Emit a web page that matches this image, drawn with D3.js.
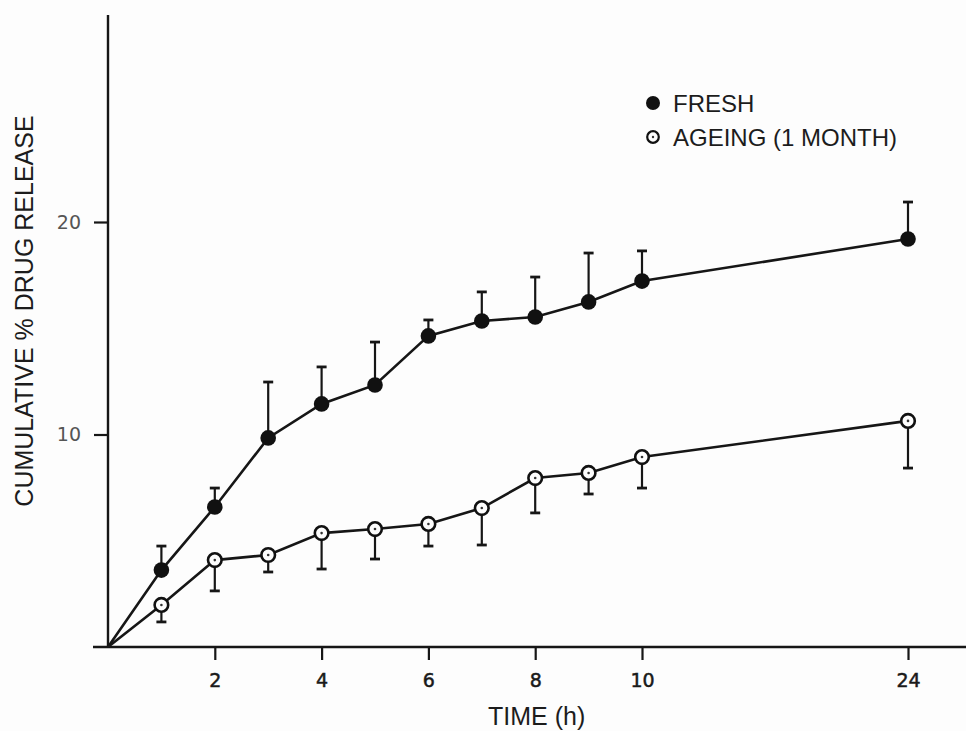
<!DOCTYPE html>
<html>
<head>
<meta charset="utf-8">
<script src="https://cdn.jsdelivr.net/npm/d3@7"></script>
<style>
  body { margin: 0; background: #fdfdfd; }
  svg { display: block; background: #fdfdfd; }
  .axis text { font-family: "DejaVu Sans", sans-serif; font-size: 19px; fill: #1a1a1a; stroke: #1a1a1a; stroke-width: 0.5; }
  .axis line { stroke: #161616; stroke-width: 2.2; }
  .label { font-family: "Liberation Sans", Arial, sans-serif; font-size: 25px; fill: #1c1c1c; }
  .legend { font-family: "Liberation Sans", Arial, sans-serif; font-size: 24px; fill: #1c1c1c; }
</style>
</head>
<body>
<script>
//Global variables
const width = 966;
const height = 731;

//Data (hours, cumulative % released, SD)
const times = [1, 2, 3, 4, 5, 6, 7, 8, 9, 10, 24];
const fresh = [3.62, 6.59, 9.84, 11.44, 12.33, 14.64, 15.34, 15.53, 16.24, 17.22, 19.2];
const freshSd = [1.13, 0.89, 2.63, 1.74, 2.02, 0.75, 1.37, 1.88, 2.3, 1.42, 1.74];
const ageing = [1.98, 4.09, 4.33, 5.36, 5.55, 5.79, 6.54, 7.95, 8.19, 8.94, 10.64];
const ageingSd = [0.8, 1.45, 0.8, 1.69, 1.41, 1.04, 1.74, 1.64, 0.99, 1.46, 2.22];
const xTicks = [2, 4, 6, 8, 10, 24];
const yTicks = [10, 20];

const freshData = times.map((t, i) => ({t: t, v: fresh[i], sd: freshSd[i]}));
const ageingData = times.map((t, i) => ({t: t, v: ageing[i], sd: ageingSd[i]}));

//Scales - time axis is broken after 10 h
const xScale = d3.scaleLinear()
    .domain([0, 10, 24])
    .range([108, 642, 908]);

const yScale = d3.scaleLinear()
    .domain([0, 20])
    .range([647, 222]);

//SVG element
const svg = d3.select("body")
    .append("svg")
    .attr("width", width)
    .attr("height", height);

//Axis lines
svg.append("line")
    .attr("x1", 93).attr("x2", width)
    .attr("y1", yScale(0)).attr("y2", yScale(0))
    .attr("stroke", "#161616").attr("stroke-width", 2.4);

svg.append("line")
    .attr("x1", xScale(0)).attr("x2", xScale(0))
    .attr("y1", 15).attr("y2", yScale(0))
    .attr("stroke", "#161616").attr("stroke-width", 2.4);

//Axes
const bottomAxis = d3.axisBottom(xScale)
    .tickValues(xTicks)
    .tickSize(13)
    .tickPadding(14);

const leftAxis = d3.axisLeft(yScale)
    .tickValues(yTicks)
    .tickSize(14)
    .tickPadding(13);

const gx = svg.append("g")
    .attr("class", "axis")
    .attr("transform", "translate(0," + yScale(0) + ")")
    .call(bottomAxis);
gx.select(".domain").remove();

const gy = svg.append("g")
    .attr("class", "axis")
    .attr("transform", "translate(" + xScale(0) + ",0)")
    .call(leftAxis);
gy.select(".domain").remove();
gy.selectAll("text").style("fill", "#555").style("stroke", "none");

//Line generator, both curves start at the origin
const line = d3.line()
    .x(d => xScale(d.t))
    .y(d => yScale(d.v));

[freshData, ageingData].forEach(series => {
    svg.append("path")
        .datum([{t: 0, v: 0}].concat(series))
        .attr("d", line)
        .attr("fill", "none")
        .attr("stroke", "#161616")
        .attr("stroke-width", 2.6);
});

//Error bars: fresh upward, ageing downward
function errorBars(series, dir) {
    const g = svg.append("g").attr("stroke", "#161616").attr("stroke-width", 2.2);
    g.selectAll(".bar")
        .data(series)
        .join("line")
        .attr("x1", d => xScale(d.t)).attr("x2", d => xScale(d.t))
        .attr("y1", d => yScale(d.v))
        .attr("y2", d => yScale(d.v + dir * d.sd));
    g.selectAll(".cap")
        .data(series)
        .join("line")
        .attr("x1", d => xScale(d.t) - 5).attr("x2", d => xScale(d.t) + 5)
        .attr("y1", d => yScale(d.v + dir * d.sd))
        .attr("y2", d => yScale(d.v + dir * d.sd))
        .attr("stroke-width", 2.8);
}
errorBars(freshData, 1);
errorBars(ageingData, -1);

//Markers
svg.selectAll(".freshDot")
    .data(freshData)
    .join("circle")
    .attr("cx", d => xScale(d.t))
    .attr("cy", d => yScale(d.v))
    .attr("r", 7.8)
    .attr("fill", "#111");

svg.selectAll(".ageDot")
    .data(ageingData)
    .join("circle")
    .attr("cx", d => xScale(d.t))
    .attr("cy", d => yScale(d.v))
    .attr("r", 6.8)
    .attr("fill", "#fdfdfd")
    .attr("stroke", "#111")
    .attr("stroke-width", 2.6);

svg.selectAll(".ageCentre")
    .data(ageingData)
    .join("circle")
    .attr("cx", d => xScale(d.t))
    .attr("cy", d => yScale(d.v))
    .attr("r", 1.3)
    .attr("fill", "#333");

//Axis labels
svg.append("text")
    .attr("class", "label")
    .attr("x", 488)
    .attr("y", 725)
    .attr("font-size", 24)
    .text("TIME (h)");

svg.append("text")
    .attr("class", "label")
    .attr("transform", "translate(33,311) rotate(-90)")
    .attr("text-anchor", "middle")
    .text("CUMULATIVE % DRUG RELEASE");

//Legend
svg.append("circle")
    .attr("cx", 653).attr("cy", 103).attr("r", 7)
    .attr("fill", "#111");
svg.append("text")
    .attr("class", "legend")
    .attr("x", 673).attr("y", 112)
    .text("FRESH");

svg.append("circle")
    .attr("cx", 653).attr("cy", 137).attr("r", 5.8)
    .attr("fill", "#fdfdfd").attr("stroke", "#111").attr("stroke-width", 2.2);
svg.append("circle")
    .attr("cx", 653).attr("cy", 137).attr("r", 1.2)
    .attr("fill", "#333");
svg.append("text")
    .attr("class", "legend")
    .attr("x", 673).attr("y", 146)
    .text("AGEING (1 MONTH)");
</script>
</body>
</html>
